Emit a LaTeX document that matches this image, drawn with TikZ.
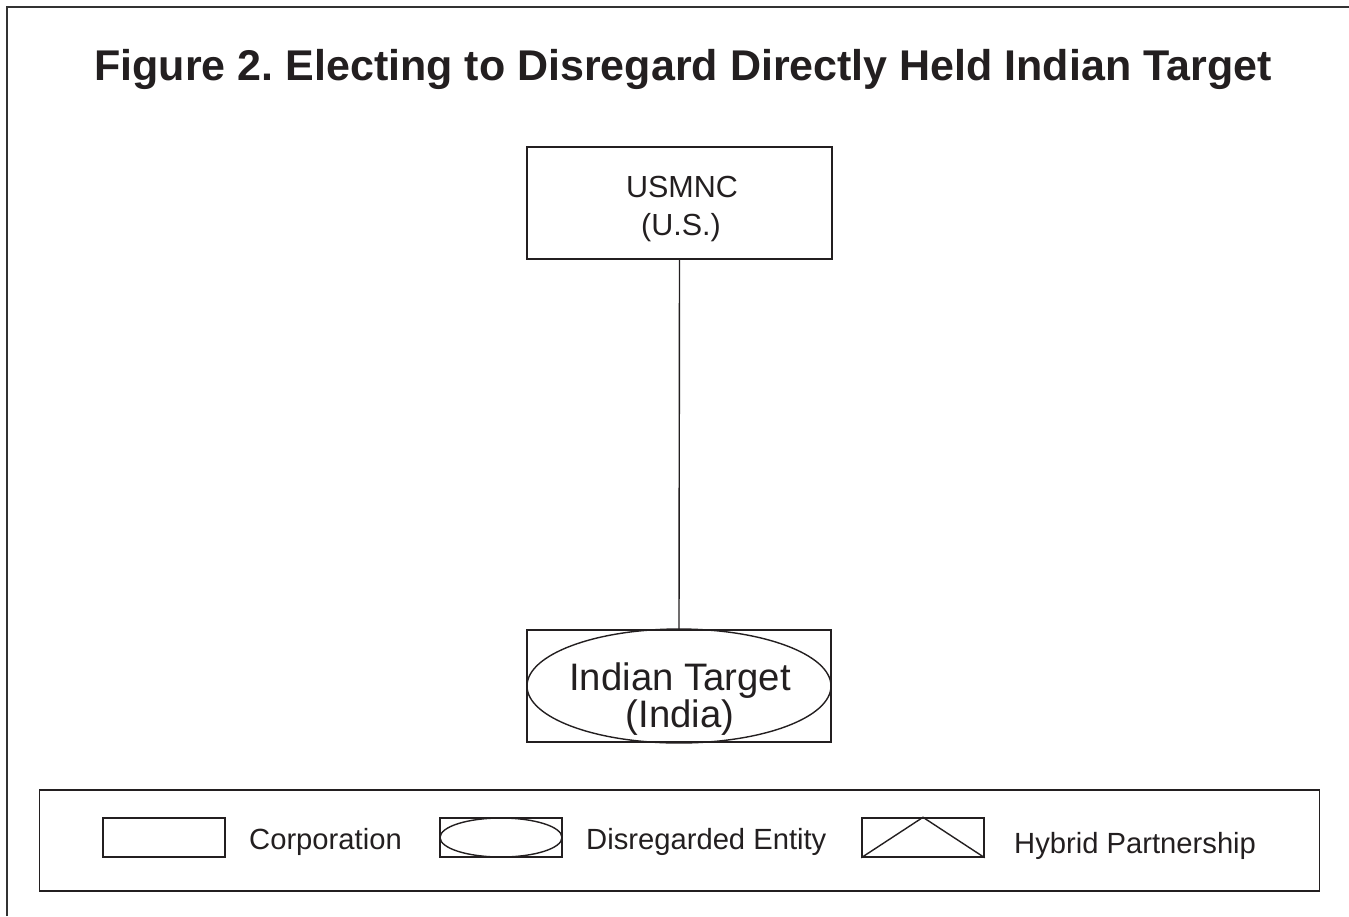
\documentclass[tikz,border=0pt]{standalone}
\usepackage{fontspec}
\setmainfont{Liberation Sans}
\usetikzlibrary{shapes.geometric}
\definecolor{ink}{HTML}{231F20}
\frenchspacing
\tikzset{
  entity/.style={draw=ink, line width=1.4pt, rectangle, inner sep=0pt},
  oval/.style={draw=ink, line width=1.4pt, ellipse, inner sep=0pt},
  txt/.style={text=ink, inner sep=0pt, anchor=base},
  legtxt/.style={txt, font=\fontsize{29.2}{33}\selectfont, anchor=base west},
}
\begin{document}
\begin{tikzpicture}[x=1pt,y=-1pt]
\useasboundingbox (0,0) rectangle (1349,916);
% page frame
\coordinate (fl) at (7,916);
\coordinate (fc) at (7,7);
\coordinate (fr) at (1349,7);
\draw[line width=1.5pt, black!80] (fl) -- (fc) -- (fr);
% title
\node[txt, font=\fontsize{43}{48}\selectfont\bfseries] (title) at (683,80)
  {Figure 2. Electing to Disregard Directly Held Indian Target};
% parent
\node[entity, minimum width=305pt, minimum height=112pt] (usmnc) at (679.5,203) {};
\node[txt, font=\fontsize{30.5}{34}\selectfont] (usmncA) at (682,197) {USMNC};
\node[txt, font=\fontsize{30.5}{34}\selectfont] (usmncB) at (681,235) {(U.S.)};
% disregarded target
\node[entity, minimum width=304pt, minimum height=112pt] (target) at (679,686) {};
\node[oval, minimum width=304pt, minimum height=114pt] (targetOval) at (679,686) {};
\node[txt, font=\fontsize{38.3}{42}\selectfont] (targetA) at (680,690) {Indian Target};
\node[txt, font=\fontsize{38.3}{42}\selectfont] (targetB) at (680,727) {(India)};
\draw[line width=1.4pt, ink] (usmnc.south) -- (target.north);
% legend
\node[entity, line width=1.2pt, minimum width=1280pt, minimum height=101pt] (legend) at (679.5,840.5) {};
\node[entity, minimum width=122pt, minimum height=39pt] (lgCorp) at (164,837.5) {};
\node[legtxt] (lgCorpT) at (249,849) {Corporation};
\node[entity, minimum width=122pt, minimum height=39pt] (lgDis) at (501,837.5) {};
\node[oval, minimum width=122pt, minimum height=39pt] (lgDisOval) at (501,837.5) {};
\node[legtxt] (lgDisT) at (586,849) {Disregarded Entity};
\node[entity, minimum width=122pt, minimum height=39pt] (lgHyb) at (923,837.5) {};
\draw[line width=1.4pt, ink] (lgHyb.south west) -- (lgHyb.north) -- (lgHyb.south east);
\node[legtxt] (lgHybT) at (1014,853) {Hybrid Partnership};
\end{tikzpicture}
\end{document}
